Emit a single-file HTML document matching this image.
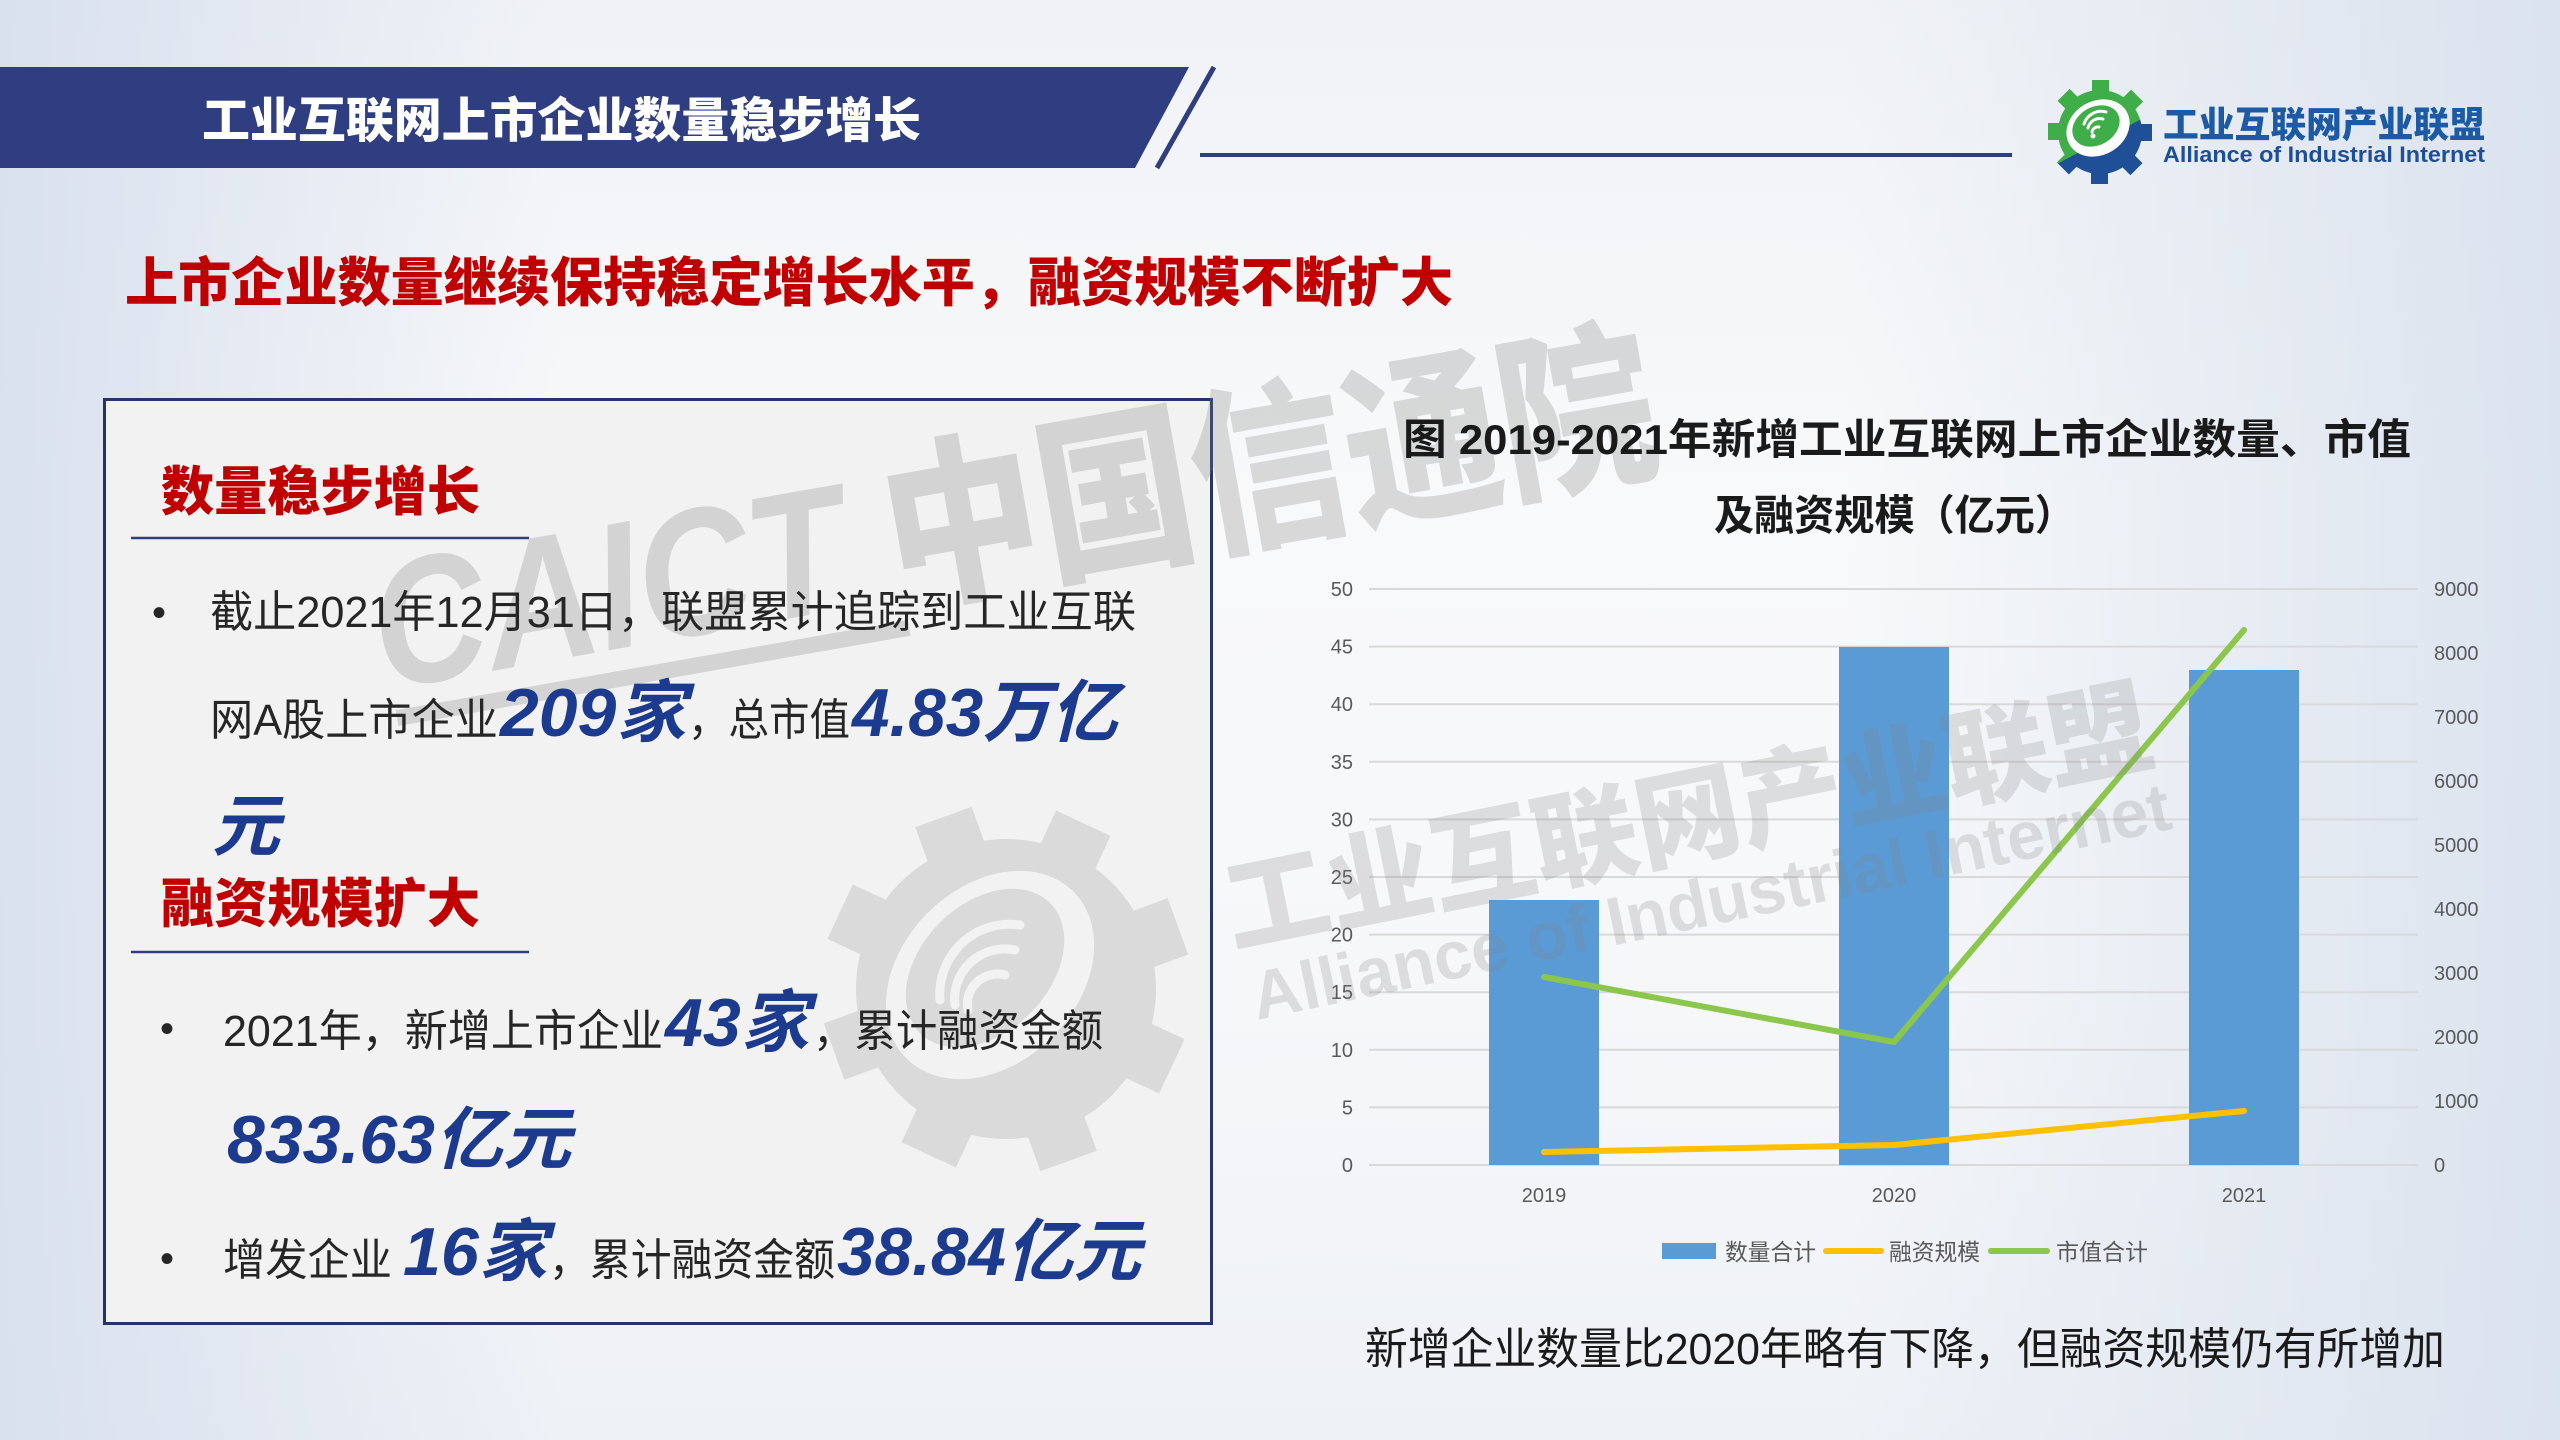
<!DOCTYPE html>
<html>
<head>
<meta charset="utf-8">
<style>
html,body{margin:0;padding:0;}
body{width:2560px;height:1440px;overflow:hidden;position:relative;
background:
 linear-gradient(90deg, rgba(216,224,238,0.95) 0%, rgba(238,241,246,0) 22%, rgba(238,241,246,0) 72%, rgba(218,226,238,0.95) 100%),
 linear-gradient(180deg, #f0f2f6 0%, #f8f9fa 35%, #f6f7f9 70%, #eef1f6 100%);
font-family:"Liberation Sans","Noto Sans CJK SC",sans-serif;}
svg{position:absolute;left:0;top:0;}
.cj{font-family:"Liberation Sans","Noto Sans CJK SC",sans-serif;}
</style>
</head>
<body>
<svg width="2560" height="1440" viewBox="0 0 2560 1440" xmlns="http://www.w3.org/2000/svg">
  <defs>
    <clipPath id="lgclip">
      <circle cx="2100" cy="132" r="42"/>
      <rect x="2092" y="80" width="17" height="20" transform="rotate(0 2100 132)"/>
      <rect x="2092" y="80" width="17" height="20" transform="rotate(45 2100 132)"/>
      <rect x="2092" y="80" width="17" height="20" transform="rotate(90 2100 132)"/>
      <rect x="2092" y="80" width="17" height="20" transform="rotate(135 2100 132)"/>
      <rect x="2092" y="80" width="17" height="20" transform="rotate(180 2100 132)"/>
      <rect x="2092" y="80" width="17" height="20" transform="rotate(225 2100 132)"/>
      <rect x="2092" y="80" width="17" height="20" transform="rotate(270 2100 132)"/>
      <rect x="2092" y="80" width="17" height="20" transform="rotate(315 2100 132)"/>
    </clipPath>
  </defs>

  <!-- Title banner -->
  <polygon points="0,67 1189,67 1135,168 0,168" fill="#2f3e80"/>
  <line x1="1214" y1="67" x2="1157" y2="168" stroke="#2f3e80" stroke-width="5"/>
  <line x1="1200" y1="155" x2="2012" y2="155" stroke="#2f3e80" stroke-width="4"/>
  <text x="202" y="137" font-size="48" font-weight="900" fill="#ffffff" textLength="719" lengthAdjust="spacingAndGlyphs" class="cj">工业互联网上市企业数量稳步增长</text>

  <!-- Logo -->
  <g clip-path="url(#lgclip)">
    <rect x="2040" y="70" width="130" height="130" fill="#3fae49"/>
    <rect x="2030" y="140" width="160" height="80" fill="#1f4f96" transform="rotate(-28 2100 132)"/>
  </g>
  <ellipse cx="2098" cy="128" rx="33" ry="27" transform="rotate(-30 2098 128)" fill="#ffffff"/>
  <ellipse cx="2096" cy="126" rx="25" ry="19" transform="rotate(-30 2096 126)" fill="#3fae49"/>
  <g fill="none" stroke="#ffffff" stroke-width="3" stroke-linecap="round">
    <path d="M2084,124 A18,18 0 0 1 2106,112"/>
    <path d="M2088,128 A12,12 0 0 1 2103,119"/>
    <path d="M2092,132 A6,6 0 0 1 2099,127"/>
  </g>
  <circle cx="2093" cy="136" r="2.5" fill="#ffffff"/>
  <text x="2163" y="137" font-size="36" font-weight="900" fill="#1d5aa5" textLength="322" lengthAdjust="spacingAndGlyphs" class="cj">工业互联网产业联盟</text>
  <text x="2163" y="162" font-size="22" font-weight="700" fill="#1d4f98" textLength="322" lengthAdjust="spacingAndGlyphs">Alliance of Industrial Internet</text>

  <!-- Red subtitle -->
  <text x="125" y="301" font-size="53" font-weight="900" fill="#c00000" textLength="1328" lengthAdjust="spacingAndGlyphs" class="cj">上市企业数量继续保持稳定增长水平，融资规模不断扩大</text>

  <!-- Left box -->
  <rect x="104.5" y="399.5" width="1107" height="924" fill="#f2f2f2" stroke="#263567" stroke-width="3"/>

  <!-- Gear watermark in box -->
  <g fill="#dadada">
    <circle cx="1006" cy="989" r="150"/>
    <g>
      <rect x="976" y="806" width="60" height="50" transform="rotate(-20 1006 989)"/>
      <rect x="976" y="806" width="60" height="50" transform="rotate(25 1006 989)"/>
      <rect x="976" y="806" width="60" height="50" transform="rotate(70 1006 989)"/>
      <rect x="976" y="806" width="60" height="50" transform="rotate(115 1006 989)"/>
      <rect x="976" y="806" width="60" height="50" transform="rotate(160 1006 989)"/>
      <rect x="976" y="806" width="60" height="50" transform="rotate(205 1006 989)"/>
      <rect x="976" y="806" width="60" height="50" transform="rotate(250 1006 989)"/>
      <rect x="976" y="806" width="60" height="50" transform="rotate(295 1006 989)"/>
    </g>
  </g>
  <ellipse cx="990" cy="975" rx="118" ry="88" transform="rotate(-45 990 975)" fill="#f2f2f2"/>
  <ellipse cx="985" cy="968" rx="92" ry="64" transform="rotate(-45 985 968)" fill="#dadada"/>
  <g fill="none" stroke="#f2f2f2" stroke-width="9" stroke-linecap="round">
    <path d="M940,1000 A70,70 0 0 1 1020,925"/>
    <path d="M955,1005 A50,50 0 0 1 1015,950"/>
    <path d="M968,1010 A30,30 0 0 1 1005,975"/>
  </g>

  <!-- CAICT watermark -->
  <g transform="rotate(-10 384 690)" fill="rgba(128,128,128,0.27)">
    <text x="384" y="690" font-size="180" font-weight="900" textLength="1300" lengthAdjust="spacingAndGlyphs" class="cj"><tspan font-style="italic">CAICT</tspan> 中国信通院</text>
    <rect x="392" y="712" width="520" height="16"/>
  </g>

  <!-- Left box text -->
  <text x="161" y="510" font-size="53" font-weight="900" fill="#c00000" textLength="319" lengthAdjust="spacingAndGlyphs" class="cj">数量稳步增长</text>
  <line x1="131" y1="538" x2="529" y2="538" stroke="#2f3e80" stroke-width="2.5"/>

  <text x="152" y="626" font-size="40" fill="#262626">•</text>
  <text x="210" y="627" font-size="44" fill="#262626" textLength="926" lengthAdjust="spacingAndGlyphs" class="cj">截止2021年12月31日，联盟累计追踪到工业互联</text>

  <text x="210" y="735" font-size="44" fill="#262626" textLength="288" lengthAdjust="spacingAndGlyphs" class="cj">网A股上市企业</text>
  <text x="500" y="736" font-size="68" font-weight="700" font-style="italic" fill="#1d3b8e" textLength="186" lengthAdjust="spacingAndGlyphs" class="cj">209家</text>
  <text x="688" y="735" font-size="44" fill="#262626" textLength="162" lengthAdjust="spacingAndGlyphs" class="cj">，总市值</text>
  <text x="852" y="736" font-size="68" font-weight="700" font-style="italic" fill="#1d3b8e" textLength="266" lengthAdjust="spacingAndGlyphs" class="cj">4.83万亿</text>
  <text x="212" y="850" font-size="68" font-weight="700" font-style="italic" fill="#1d3b8e" class="cj">元</text>

  <text x="161" y="922" font-size="53" font-weight="900" fill="#c00000" textLength="319" lengthAdjust="spacingAndGlyphs" class="cj">融资规模扩大</text>
  <line x1="131" y1="952" x2="529" y2="952" stroke="#2f3e80" stroke-width="2.5"/>

  <text x="160" y="1042" font-size="40" fill="#262626">•</text>
  <text x="223" y="1046" font-size="44" fill="#262626" textLength="440" lengthAdjust="spacingAndGlyphs" class="cj">2021年，新增上市企业</text>
  <text x="665" y="1046" font-size="68" font-weight="700" font-style="italic" fill="#1d3b8e" textLength="144" lengthAdjust="spacingAndGlyphs" class="cj">43家</text>
  <text x="813" y="1046" font-size="44" fill="#262626" textLength="290" lengthAdjust="spacingAndGlyphs" class="cj">，累计融资金额</text>
  <text x="227" y="1163" font-size="68" font-weight="700" font-style="italic" fill="#1d3b8e" textLength="344" lengthAdjust="spacingAndGlyphs" class="cj">833.63亿元</text>

  <text x="160" y="1272" font-size="40" fill="#262626">•</text>
  <text x="223" y="1275" font-size="44" fill="#262626" textLength="169" lengthAdjust="spacingAndGlyphs" class="cj">增发企业</text>
  <text x="403" y="1275" font-size="68" font-weight="700" font-style="italic" fill="#1d3b8e" textLength="144" lengthAdjust="spacingAndGlyphs" class="cj">16家</text>
  <text x="549" y="1275" font-size="44" fill="#262626" textLength="286" lengthAdjust="spacingAndGlyphs" class="cj">，累计融资金额</text>
  <text x="837" y="1275" font-size="68" font-weight="700" font-style="italic" fill="#1d3b8e" textLength="304" lengthAdjust="spacingAndGlyphs" class="cj">38.84亿元</text>

  <!-- Chart title -->
  <text x="1403" y="454" font-size="42" font-weight="700" fill="#1a1a1a" textLength="1008" lengthAdjust="spacingAndGlyphs" class="cj">图 2019-2021年新增工业互联网上市企业数量、市值</text>
  <text x="1714" y="530" font-size="42" font-weight="700" fill="#1a1a1a" textLength="361" lengthAdjust="spacingAndGlyphs" class="cj">及融资规模（亿元）</text>

  <!-- Gridlines -->
  <g stroke="#d9d9d9" stroke-width="2">
    <line x1="1369" y1="1165" x2="2418" y2="1165"/>
    <line x1="1369" y1="1107.4" x2="2418" y2="1107.4"/>
    <line x1="1369" y1="1049.8" x2="2418" y2="1049.8"/>
    <line x1="1369" y1="992.2" x2="2418" y2="992.2"/>
    <line x1="1369" y1="934.6" x2="2418" y2="934.6"/>
    <line x1="1369" y1="877" x2="2418" y2="877"/>
    <line x1="1369" y1="819.4" x2="2418" y2="819.4"/>
    <line x1="1369" y1="761.8" x2="2418" y2="761.8"/>
    <line x1="1369" y1="704.2" x2="2418" y2="704.2"/>
    <line x1="1369" y1="646.6" x2="2418" y2="646.6"/>
    <line x1="1369" y1="589" x2="2418" y2="589"/>
  </g>

  <!-- Left axis labels -->
  <g font-size="20" fill="#595959" text-anchor="end">
    <text x="1353" y="1172">0</text>
    <text x="1353" y="1114.4">5</text>
    <text x="1353" y="1056.8">10</text>
    <text x="1353" y="999.2">15</text>
    <text x="1353" y="941.6">20</text>
    <text x="1353" y="884">25</text>
    <text x="1353" y="826.4">30</text>
    <text x="1353" y="768.8">35</text>
    <text x="1353" y="711.2">40</text>
    <text x="1353" y="653.6">45</text>
    <text x="1353" y="596">50</text>
  </g>
  <!-- Right axis labels -->
  <g font-size="20" fill="#595959" text-anchor="start">
    <text x="2434" y="1172">0</text>
    <text x="2434" y="1108">1000</text>
    <text x="2434" y="1044">2000</text>
    <text x="2434" y="980">3000</text>
    <text x="2434" y="916">4000</text>
    <text x="2434" y="852">5000</text>
    <text x="2434" y="788">6000</text>
    <text x="2434" y="724">7000</text>
    <text x="2434" y="660">8000</text>
    <text x="2434" y="596">9000</text>
  </g>

  <!-- Bars -->
  <g fill="#5b9bd5">
    <rect x="1489" y="900" width="110" height="265"/>
    <rect x="1839" y="647" width="110" height="518"/>
    <rect x="2189" y="670" width="110" height="495"/>
  </g>

  <!-- Lines -->
  <polyline points="1544,1152 1894,1145 2244,1111" fill="none" stroke="#ffc000" stroke-width="6" stroke-linecap="round" stroke-linejoin="round"/>
  <polyline points="1544,977 1894,1042 2244,630" fill="none" stroke="#8bc74c" stroke-width="6" stroke-linecap="round" stroke-linejoin="round"/>

  <!-- Category labels -->
  <g font-size="20" fill="#595959" text-anchor="middle">
    <text x="1544" y="1202">2019</text>
    <text x="1894" y="1202">2020</text>
    <text x="2244" y="1202">2021</text>
  </g>

  <!-- Chart watermark -->
  <g fill="rgba(128,128,128,0.22)">
    <text x="1233" y="947" font-size="105" font-weight="900" transform="rotate(-11.4 1233 947)" textLength="943" lengthAdjust="spacingAndGlyphs" class="cj">工业互联网产业联盟</text>
    <text x="1257" y="1020" font-size="68" font-weight="700" transform="rotate(-11.8 1257 1020)" textLength="937" lengthAdjust="spacingAndGlyphs">Alliance of Industrial Internet</text>
  </g>

  <!-- Legend -->
  <rect x="1662" y="1243" width="54" height="16" fill="#5b9bd5"/>
  <text x="1725" y="1260" font-size="23" fill="#595959" textLength="91" lengthAdjust="spacingAndGlyphs" class="cj">数量合计</text>
  <line x1="1826" y1="1251" x2="1881" y2="1251" stroke="#ffc000" stroke-width="6" stroke-linecap="round"/>
  <text x="1889" y="1260" font-size="23" fill="#595959" textLength="91" lengthAdjust="spacingAndGlyphs" class="cj">融资规模</text>
  <line x1="1991" y1="1251" x2="2047" y2="1251" stroke="#8bc74c" stroke-width="6" stroke-linecap="round"/>
  <text x="2056" y="1260" font-size="23" fill="#595959" textLength="92" lengthAdjust="spacingAndGlyphs" class="cj">市值合计</text>

  <!-- Bottom note -->
  <text x="1365" y="1364" font-size="44" fill="#1a1a1a" textLength="1080" lengthAdjust="spacingAndGlyphs" class="cj">新增企业数量比2020年略有下降，但融资规模仍有所增加</text>
</svg>
</body>
</html>
